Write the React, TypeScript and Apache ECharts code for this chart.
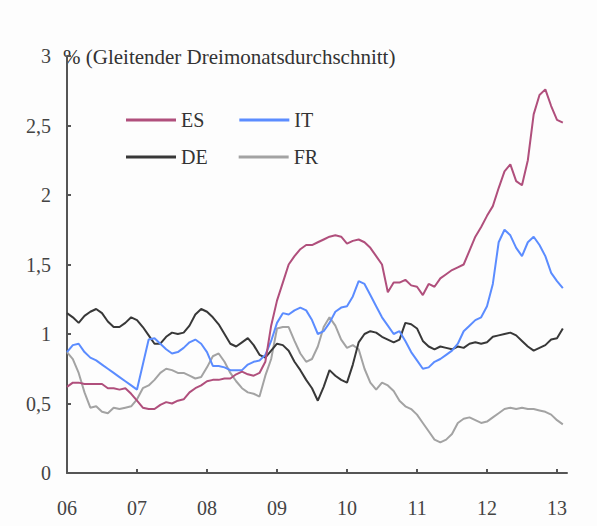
import React, { useEffect, useRef } from "react";
import * as echarts from "echarts";

const startYear = 2006;
const yTicks = [0, 0.5, 1, 1.5, 2, 2.5, 3];
const xTickLabels = ["06", "07", "08", "09", "10", "11", "12", "13"];
const seriesNames = ["ES", "IT", "DE", "FR"];

const ES = [
  0.62, 0.65, 0.65, 0.64, 0.64, 0.64, 0.64, 0.61, 0.61, 0.6, 0.61, 0.57,
  0.52, 0.47, 0.46, 0.46, 0.49, 0.51, 0.5, 0.52, 0.53, 0.58, 0.61, 0.63,
  0.66, 0.67, 0.67, 0.68, 0.68, 0.71, 0.73, 0.71, 0.7, 0.72, 0.8, 1.06,
  1.24, 1.37, 1.5, 1.56, 1.61, 1.64, 1.64, 1.66, 1.68, 1.7, 1.71, 1.7,
  1.65, 1.67, 1.68, 1.66, 1.62, 1.56, 1.5, 1.3, 1.37, 1.37, 1.39, 1.35,
  1.34, 1.28, 1.36, 1.34, 1.4, 1.43, 1.46, 1.48, 1.5, 1.6, 1.7, 1.77,
  1.85, 1.92, 2.05, 2.17, 2.22, 2.1, 2.07, 2.25, 2.58, 2.72, 2.76, 2.64,
  2.54, 2.52,
];

const IT = [
  0.87, 0.92, 0.93, 0.87, 0.83, 0.81, 0.78, 0.75, 0.72, 0.69, 0.66, 0.63,
  0.6, 0.78, 0.96, 0.97, 0.93, 0.89, 0.86, 0.87, 0.9, 0.94, 0.96, 0.93,
  0.87, 0.77, 0.77, 0.76, 0.74, 0.74, 0.74, 0.78, 0.8, 0.81, 0.85, 0.95,
  1.08, 1.15, 1.14, 1.17, 1.19, 1.17, 1.1, 1.0, 1.02, 1.08, 1.16, 1.19,
  1.2, 1.27, 1.38, 1.36, 1.28, 1.2, 1.12, 1.06, 1.0, 1.02, 0.95, 0.87,
  0.81, 0.75, 0.76, 0.8, 0.82, 0.85, 0.88, 0.93, 1.02, 1.06, 1.1, 1.12,
  1.2, 1.36, 1.66, 1.75, 1.71, 1.62, 1.56, 1.66, 1.7, 1.64, 1.56, 1.44,
  1.38, 1.33,
];

const DE = [
  1.15, 1.12, 1.08, 1.13, 1.16, 1.18, 1.15, 1.09, 1.05, 1.05, 1.08, 1.12,
  1.1, 1.05, 0.99, 0.93, 0.93, 0.98, 1.01, 1.0, 1.01, 1.06, 1.14, 1.18,
  1.16, 1.12, 1.07, 1.0, 0.93, 0.91, 0.94, 0.97, 0.92, 0.85, 0.83, 0.88,
  0.93, 0.92, 0.88, 0.8, 0.74, 0.67, 0.61, 0.52, 0.62, 0.74, 0.7, 0.67,
  0.65, 0.78, 0.94, 1.0, 1.02, 1.01, 0.98, 0.96, 0.94, 0.96, 1.08, 1.07,
  1.04, 0.95, 0.91, 0.89, 0.91, 0.9, 0.89, 0.91, 0.9, 0.93, 0.94, 0.93,
  0.94, 0.98, 0.99, 1.0, 1.01, 0.99, 0.95, 0.91, 0.88, 0.9, 0.92, 0.96,
  0.97, 1.04,
];

const FR = [
  0.87, 0.82, 0.72, 0.58, 0.47, 0.48, 0.44, 0.43, 0.47, 0.46, 0.47, 0.48,
  0.53, 0.61, 0.63, 0.67, 0.72, 0.75, 0.74, 0.72, 0.72, 0.7, 0.68, 0.69,
  0.76, 0.84, 0.86, 0.8, 0.72, 0.66, 0.61, 0.58, 0.57, 0.55, 0.7, 0.82,
  1.04, 1.05, 1.05, 0.95, 0.86, 0.8, 0.82, 0.91, 1.05, 1.12, 1.06, 0.96,
  0.9, 0.92, 0.89, 0.75, 0.65, 0.6, 0.65, 0.63, 0.59, 0.52, 0.48, 0.46,
  0.42, 0.36, 0.3, 0.24, 0.22, 0.24, 0.28, 0.36, 0.39, 0.4, 0.38, 0.36,
  0.37, 0.4, 0.43, 0.46, 0.47, 0.46, 0.47, 0.46, 0.46, 0.45, 0.44, 0.42,
  0.38, 0.35,
];

const colors: Record<string, string> = {
  ES: "#b04f7c",
  IT: "#5b8cff",
  DE: "#383838",
  FR: "#a3a3a3",
};

const valuesByName: Record<string, number[]> = { ES, IT, DE, FR };

const FONT = "'Liberation Serif', 'DejaVu Serif', serif";

export default function App() {
  const ref = useRef<HTMLDivElement>(null);
  useEffect(() => {
    if (!ref.current) return;
    const chart = echarts.init(ref.current, undefined, { renderer: "svg" });
    const drawOrder = ["FR", "DE", "IT", "ES"];
    const legendCommon = {
      left: 126,
      padding: 0,
      itemWidth: 50,
      itemHeight: 3,
      icon: "rect",
      textStyle: { fontFamily: FONT, fontSize: 20, color: "#333" },
      selectedMode: false,
    };
    chart.setOption({
      animation: false,
      backgroundColor: "#fdfdfd",
      grid: { left: 67, right: 30, top: 56, bottom: 53, containLabel: false },
      legend: [
        { ...legendCommon, data: [seriesNames[0], seriesNames[1]], top: 110, itemGap: 35 },
        { ...legendCommon, data: [seriesNames[2], seriesNames[3]], top: 147, itemGap: 31 },
      ],
      xAxis: {
        type: "value",
        min: startYear,
        max: startYear + 500 / 70,
        interval: 1,
        axisLine: { lineStyle: { color: "#555", width: 2 } },
        axisTick: { inside: true, length: 4, lineStyle: { color: "#555", width: 2 } },
        splitLine: { show: false },
        axisLabel: {
          margin: 25,
          fontFamily: FONT,
          fontSize: 20,
          color: "#444",
          showMaxLabel: false,
          formatter: (v: number) => {
            const idx = Math.round(v - startYear);
            return Math.abs(v - Math.round(v)) < 1e-6 ? xTickLabels[idx] ?? "" : "";
          },
        },
      },
      yAxis: {
        type: "value",
        min: yTicks[0],
        max: yTicks[yTicks.length - 1],
        interval: 0.5,
        axisLine: { show: true, lineStyle: { color: "#555", width: 2 } },
        axisTick: { show: true, inside: true, length: 4, lineStyle: { color: "#555", width: 2 } },
        splitLine: { show: false },
        axisLabel: {
          margin: 16,
          fontFamily: FONT,
          fontSize: 20,
          color: "#444",
          formatter: (v: number) => String(v).replace(".", ","),
        },
      },
      graphic: [
        {
          type: "text",
          left: 63,
          top: 46,
          style: {
            text: "% (Gleitender Dreimonatsdurchschnitt)",
            font: `21px ${FONT}`,
            fill: "#333",
          },
        },
      ],
      series: drawOrder.map((name) => ({
        name,
        type: "line",
        showSymbol: false,
        symbol: "none",
        color: colors[name],
        lineStyle: { width: 2, color: colors[name] },
        data: valuesByName[name].map((v, i) => [startYear + i / 12, v]),
      })),
    });
    return () => chart.dispose();
  }, []);
  return (
    <div
      ref={ref}
      style={{ position: "fixed", left: 0, top: 0, width: 597, height: 526 }}
    />
  );
}
